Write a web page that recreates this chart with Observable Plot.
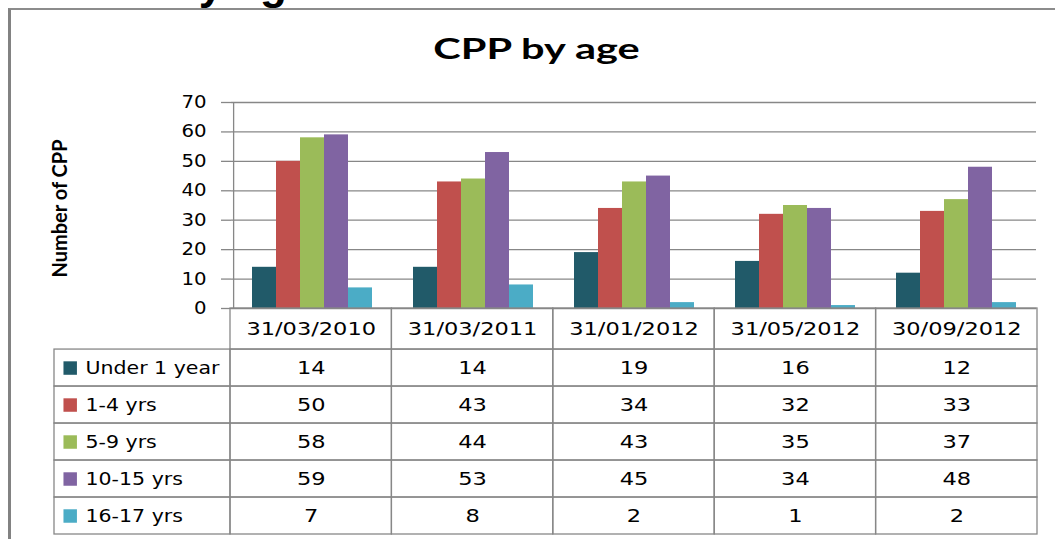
<!DOCTYPE html>
<html><head><meta charset="utf-8">
<script src="https://cdn.jsdelivr.net/npm/d3@7"></script>
<script src="https://cdn.jsdelivr.net/npm/@observablehq/plot@0.6"></script>
<style>
html,body{margin:0;padding:0;background:#fff;}
#root{position:relative;width:1055px;height:539px;overflow:hidden;background:#fff;}
#frameBox{position:absolute;left:8px;top:8px;width:1100px;height:600px;border-left:3px solid #828282;border-top:2px solid #8c8c8c;}
#heading{position:absolute;left:70px;top:-38px;font:bold 44px/44px "Liberation Sans";white-space:nowrap;color:#000;}
#title{position:absolute;left:9px;top:33px;width:1055px;text-align:center;font:bold 29px/29px Lato;transform:scaleX(1.43);color:#000;}
#bars,#table{position:absolute;left:0;}
#bars{top:0px}
#table{top:306px}
</style></head>
<body><div id="root">
<div id="heading">CPP by age</div>
<div id="frameBox"></div>
<div id="title">CPP by age</div>
<div id="bars"></div>
<div id="table"></div>
</div>
<script>
const titleText = "CPP by age";
const yLabel = "Number of CPP";
const dates = ["31/03/2010","31/03/2011","31/01/2012","31/05/2012","30/09/2012"];
const series = ["Under 1 year","1-4 yrs","5-9 yrs","10-15 yrs","16-17 yrs"];
const under1 = [14,14,19,16,12];
const yrs1to4 = [50,43,34,32,33];
const yrs5to9 = [58,44,43,35,37];
const yrs10to15 = [59,53,45,34,48];
const yrs16to17 = [7,8,2,1,2];
const colors = ["#215A69","#C0504D","#9BBB59","#8064A2","#4BACC6"];
const yTicks = [0,10,20,30,40,50,60,70];

const values = [under1, yrs1to4, yrs5to9, yrs10to15, yrs16to17];
const rows = series.flatMap((s,k)=>dates.map((d,i)=>({date:d, series:s, value:values[k][i]})));

const W = 1055, mL = 230, mR = 18;
const outerPad = 0.74;
const colW = (W - mL - mR) / dates.length;
const step = colW / (series.length + 2*outerPad);
const axisColor = "#878787";

// widen glyphs horizontally (the reference font is wider than DejaVu Sans)
function stretch(group, f) {
  if (!group) return;
  group.querySelectorAll("text").forEach(el => {
    const t = el.getAttribute("transform");
    if (t && t.includes("translate")) {
      el.setAttribute("transform", t + ` scale(${f},1)`);
    } else {
      const x = +(el.getAttribute("x") || 0);
      el.setAttribute("x", x / f);
      el.setAttribute("transform", (t ? t + " " : "") + `scale(${f},1)`);
    }
  });
}

const barPlot = Plot.plot({
  width: W, height: 310, marginLeft: mL, marginRight: mR, marginTop: 102, marginBottom: 2,
  style: {fontFamily: "DejaVu Sans", fontSize: "17px", background: "transparent", overflow: "visible", color: "#000"},
  fx: {domain: dates, padding: 0, axis: null},
  x: {domain: series, paddingInner: 0, paddingOuter: outerPad, axis: null},
  y: {domain: [0, 70], axis: null},
  color: {domain: series, range: colors},
  marks: [
    Plot.gridY(yTicks, {stroke: axisColor, strokeOpacity: 1, strokeWidth: 1.3}),
    Plot.axisY(yTicks, {tickSize: 10, tickPadding: 15, stroke: axisColor, strokeWidth: 1.3, fill: "#000", fontSize: 17, label: null}),
    Plot.barY(rows, {fx: "date", x: "series", y: "value", fill: "series"}),
    Plot.ruleX([dates[0]], {fx: d => d, x: () => series[0], y1: () => 0, y2: () => 70, dx: -(outerPad + 0.5) * step, stroke: axisColor, strokeWidth: 1.3}),
    Plot.text([yLabel], {fx: () => dates[0], frameAnchor: "left", textAnchor: "middle", lineAnchor: "middle", rotate: -90, dx: -171, dy: 3, text: d => d, fontFamily: "Lato", fontWeight: "bold", fontSize: 20, fill: "#000"})
  ]
});
stretch(barPlot.querySelector('g[aria-label="y-axis tick label"]'), 1.16);
document.getElementById("bars").appendChild(barPlot);

const legendCols = 176 / colW;
const headerExtra = 0.11;
const cells = [];
dates.forEach((d,i) => {
  cells.push({col: i, row: 0, text: d});
  series.forEach((s,k) => cells.push({col: i, row: k+1, text: String(values[k][i])}));
});
const legendRows = series.map((s,k) => ({row: k+1, name: s}));
const top1 = d => d.row === 0 ? -headerExtra : d.row;

const tablePlot = Plot.plot({
  width: W, height: 232, marginLeft: 54, marginRight: mR, marginTop: 2, marginBottom: 4,
  style: {fontFamily: "DejaVu Sans", fontSize: "18px", background: "transparent", overflow: "visible", color: "#000"},
  x: {domain: [-legendCols, dates.length], axis: null},
  y: {domain: [-headerExtra, series.length + 1], reverse: true, axis: null},
  color: {domain: series, range: colors},
  marks: [
    Plot.rect(cells, {x1: "col", x2: d => d.col + 1, y1: top1, y2: d => d.row + 1, stroke: axisColor, strokeWidth: 1.3, fill: "none"}),
    Plot.rect(legendRows, {x1: () => -legendCols, x2: () => 0, y1: "row", y2: d => d.row + 1, stroke: axisColor, strokeWidth: 1.3, fill: "none"}),
    Plot.text(cells, {x: d => d.col + 0.5, y: d => (top1(d) + d.row + 1) / 2, text: "text", fontFamily: "DejaVu Sans", fontSize: 18, fill: "#000"}),
    Plot.dot(legendRows, {x: () => -legendCols, y: d => d.row + 0.5, dx: 15.7, symbol: "square", r: 7.6, fill: "name", stroke: null}),
    Plot.text(legendRows, {x: () => -legendCols, y: d => d.row + 0.5, dx: 31, text: "name", textAnchor: "start", fontFamily: "DejaVu Sans", fontSize: 18, fill: "#000"})
  ]
});
const textGroups = tablePlot.querySelectorAll('g[aria-label="text"]');
stretch(textGroups[0], 1.25);
stretch(textGroups[1], 1.14);
document.getElementById("table").appendChild(tablePlot);
document.getElementById("title").textContent = titleText;
document.getElementById("heading").textContent = titleText;
</script>
</body></html>
